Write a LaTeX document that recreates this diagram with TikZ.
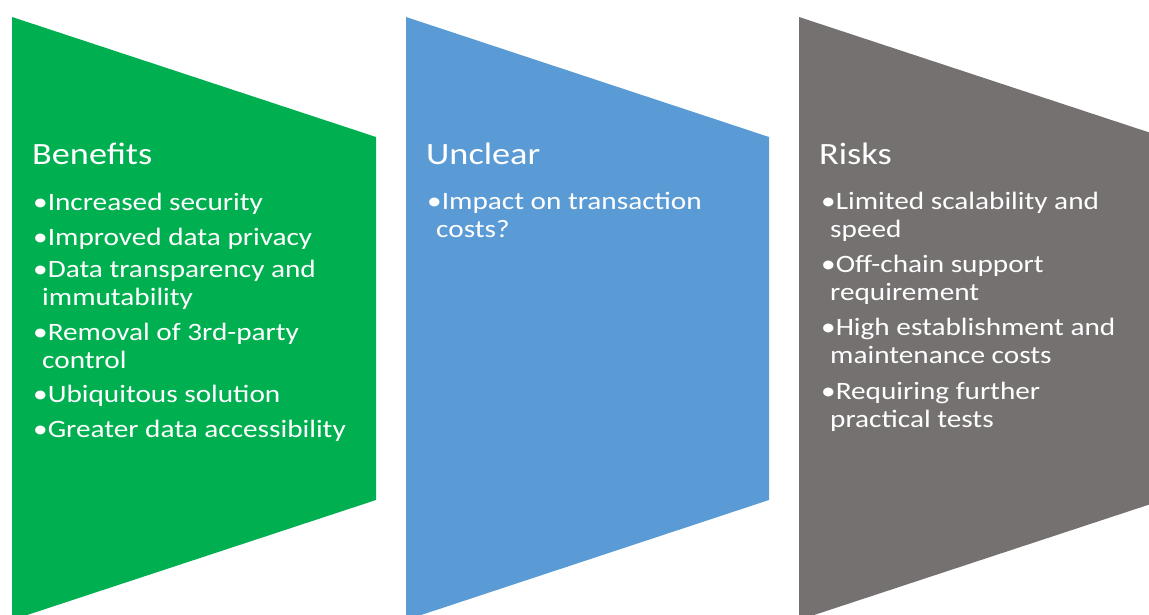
\documentclass[tikz,border=0pt]{standalone}
\usepackage{fontspec}
\setmainfont{Carlito}[FakeStretch=1.17]
\usetikzlibrary{positioning}
\definecolor{bengreen}{HTML}{00B050}
\definecolor{uncblue}{HTML}{5B9BD5}
\definecolor{riskgray}{HTML}{767171}
\newcommand{\wrapin}{\hspace*{9pt}\strut}
\tikzset{
  head/.style={text=white, inner sep=0pt, anchor=base west,
    font=\fontsize{31}{37}\selectfont},
  item/.style={text=white, inner sep=0pt, align=left,
    font=\fontsize{25}{28}\selectfont,
    execute at begin node=\strut, execute at end node=\strut},
  next/.style={below right=6pt and 0pt of #1.south west},
  nextw/.style={below right=9pt and 0pt of #1.south west},
}
\begin{document}
\begin{tikzpicture}[x=1pt, y=1pt]
\useasboundingbox (0,0) rectangle (1149,614);
\clip (0,0) rectangle (1149,614);
%Panels
\fill[bengreen] (12,597) -- (376,477) -- (376,114) -- (12,-6) -- cycle;
\fill[uncblue]  (406,597) -- (769,477) -- (769,114) -- (406,-6) -- cycle;
\fill[riskgray] (799,597) -- (1163,477) -- (1163,114) -- (799,-6) -- cycle;

%Benefits
\node[head] (ben) at (32,449) {Benefits};
\node[item, anchor=north west] (ben1) at (33,423) {•Increased security};
\node[item, next=ben1] (ben2) {•Improved data privacy};
\node[item, next=ben2] (ben3) {•Data transparency and\\\wrapin immutability};
\node[item, nextw=ben3] (ben4) {•Removal of 3rd-party\\\wrapin control};
\node[item, next=ben4] (ben5) {•Ubiquitous solution};
\node[item, next=ben5] (ben6) {•Greater data accessibility};

%Unclear
\node[head] (unc) at (426,449) {Unclear};
\node[item, anchor=north west] (unc1) at (427,422) {•Impact on transaction\\\wrapin costs?};

%Risks
\node[head] (risk) at (819,449) {Risks};
\node[item, anchor=north west] (risk1) at (821,422) {•Limited scalability and\\\wrapin speed};
\node[item, nextw=risk1] (risk2) {•Off-chain support\\\wrapin requirement};
\node[item, nextw=risk2] (risk3) {•High establishment and\\\wrapin maintenance costs};
\node[item, nextw=risk3] (risk4) {•Requiring further\\\wrapin practical tests};
\end{tikzpicture}
\end{document}
